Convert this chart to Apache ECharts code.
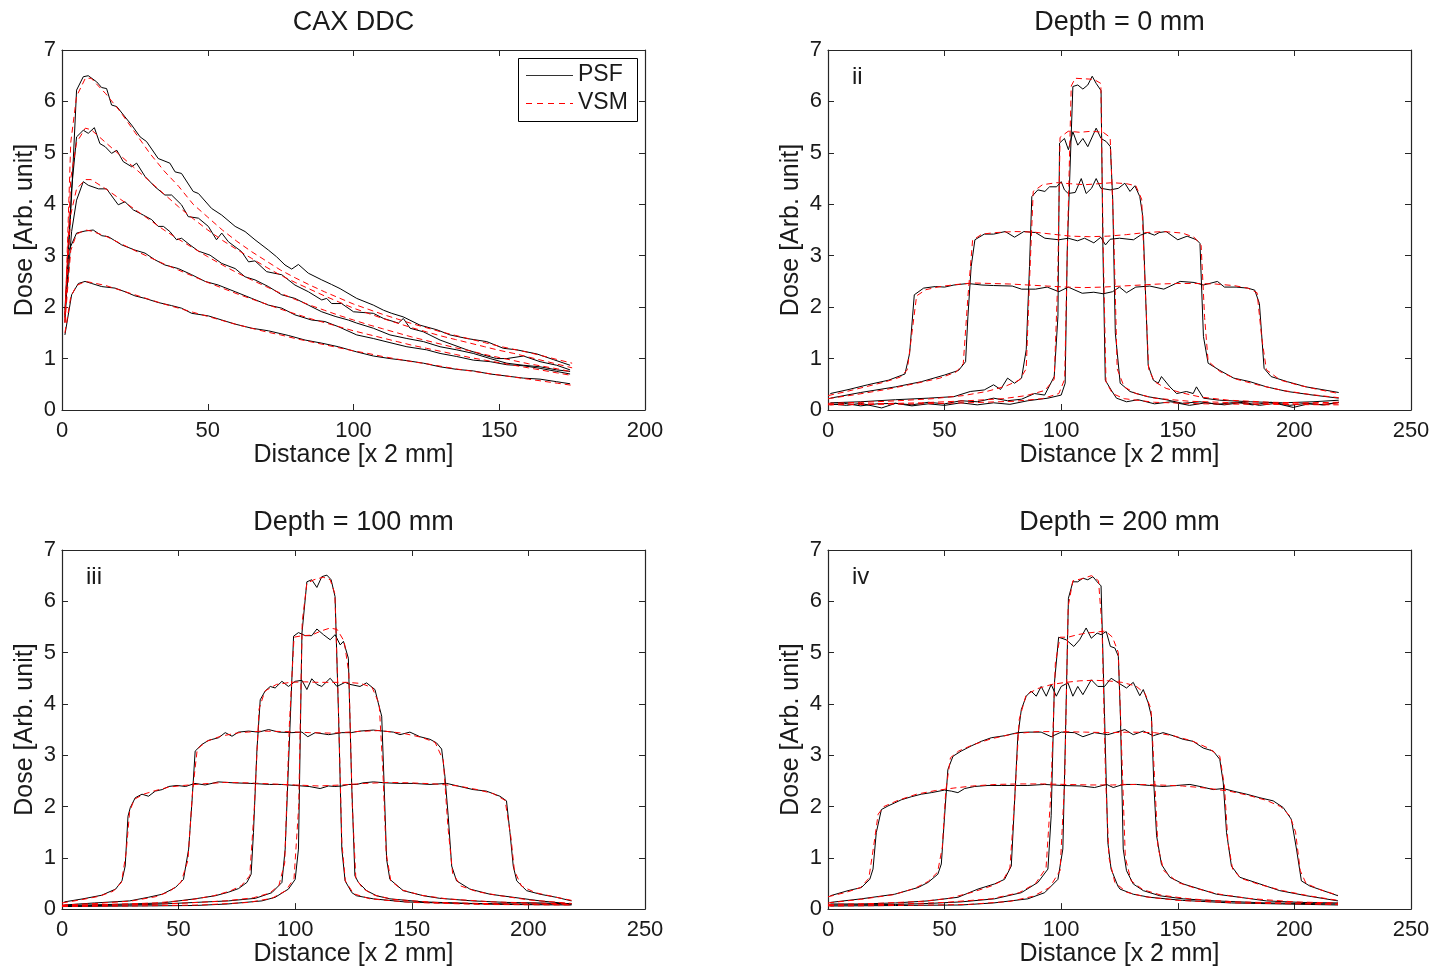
<!DOCTYPE html>
<html>
<head>
<meta charset="utf-8">
<script src="https://cdn.jsdelivr.net/npm/echarts@6/dist/echarts.min.js"></script>
<style>
html,body{margin:0;padding:0;background:#fff;}
#chart{width:1449px;height:968px;}
</style>
</head>
<body>
<div id="chart"></div>
<script>
// ---------------- DATA ----------------
const panelTitles = ['CAX DDC', 'Depth = 0 mm', 'Depth = 100 mm', 'Depth = 200 mm'];
const panelTags = ['', 'ii', 'iii', 'iv'];
const xMaxes = [200, 250, 250, 250];
const xTickStep = 50;
const yTickStep = 1;
const yMax = 7;
const xLabel = 'Distance [x 2 mm]';
const yLabel = 'Dose [Arb. unit]';
const legendNames = ['PSF', 'VSM'];

// Panel 1: CAX depth-dose curves
const cax_psf_65 = [[1,1.8],[3.3,4.18],[5,6.22],[7.3,6.48],[9,6.5],[11.9,6.38],[13.6,6.27],[15.3,6.25],[17,5.93],[18.8,5.9],[21.6,5.7],[23.9,5.54],[26.8,5.31],[29,5.22],[33,4.89],[37,4.8],[38.8,4.63],[41,4.6],[45,4.25],[46.8,4.21],[51.3,3.92],[54.8,3.79],[59.4,3.57],[62.8,3.47],[66.2,3.31],[70.8,3.11],[73.6,2.98],[76.5,2.82],[78.8,2.74],[81.1,2.83],[84.5,2.66],[89.1,2.53],[92.5,2.44],[95.4,2.36],[101.1,2.17],[106.8,2.04],[110.3,1.94],[113.1,1.88],[117.1,1.81],[122.8,1.65],[128.6,1.56],[133.1,1.46],[138.9,1.39],[145.7,1.33],[151.4,1.2],[156,1.17],[162.9,1.09],[168.6,0.98],[174.3,0.87]];
const cax_psf_55 = [[1,1.95],[3.3,4.3],[5,5.31],[7.3,5.44],[9,5.38],[11.1,5.49],[13,5.18],[14.8,5.12],[17,4.99],[18.8,5.05],[21,4.83],[23.9,4.73],[25.6,4.8],[28.5,4.54],[31.9,4.34],[35.3,4.18],[37.6,4.18],[41,3.99],[43.3,3.76],[46.8,3.73],[50.2,3.57],[53,3.31],[54.8,3.44],[57.1,3.27],[61.6,3.08],[64,2.88],[66.2,2.9],[70.2,2.69],[75.4,2.63],[79.9,2.43],[84.5,2.3],[89.1,2.14],[90.8,2.17],[92.5,2.07],[95.9,2.07],[100,1.91],[106.8,1.88],[110.3,1.78],[115.4,1.69],[117.1,1.78],[119.4,1.59],[124,1.52],[129.7,1.36],[138.9,1.17],[144.6,1.07],[149.1,1.0],[152.6,1.0],[158.3,1.05],[164,0.94],[169.7,0.87],[174.3,0.78]];
const cax_psf_45 = [[1,1.85],[3.3,3.47],[5,4.08],[7.3,4.44],[9,4.37],[12.5,4.3],[15.3,4.3],[17.6,4.12],[19.3,3.99],[21.6,4.05],[24.5,3.89],[27.9,3.79],[30.8,3.7],[33,3.57],[34.8,3.57],[37,3.47],[39.3,3.31],[41,3.34],[43.9,3.21],[46.8,3.09],[50.8,3.01],[54.8,2.85],[59.4,2.75],[62.8,2.59],[66.2,2.53],[70.8,2.4],[75.4,2.24],[79.9,2.17],[84.5,2.04],[89.1,1.91],[93.7,1.82],[98.2,1.75],[101.1,1.69],[106.8,1.59],[112.5,1.46],[118.3,1.39],[124,1.33],[129.7,1.23],[135.4,1.17],[141.1,1.1],[146.9,1.0],[152.6,0.91],[158.3,0.87],[164,0.84],[169.7,0.78],[174.3,0.75]];
const cax_psf_35 = [[1,1.7],[2.2,3.08],[5,3.44],[7.9,3.48],[10.7,3.5],[13.6,3.39],[15.9,3.37],[20.5,3.21],[25,3.11],[28.5,3.05],[31.9,2.92],[35.3,2.82],[39.9,2.75],[44.5,2.63],[49.1,2.5],[53.6,2.43],[59.4,2.3],[65.1,2.17],[70.8,2.04],[75.4,1.98],[79.9,1.85],[85.6,1.75],[90.2,1.72],[94.8,1.62],[101.1,1.46],[106.8,1.39],[112.5,1.31],[118.3,1.23],[125.1,1.17],[129.7,1.1],[135.4,1.04],[141.1,0.97],[146.9,0.94],[152.6,0.88],[158.3,0.86],[164,0.81],[169.7,0.75],[174.3,0.7]];
const cax_psf_25 = [[1,1.46],[3.3,2.24],[5.6,2.46],[7.9,2.5],[10.2,2.46],[13.6,2.4],[18.2,2.37],[21.6,2.3],[25,2.22],[28.5,2.17],[33,2.09],[37.6,2.03],[41,1.98],[44.5,1.88],[50.2,1.83],[54.8,1.75],[59.4,1.67],[65.1,1.59],[70.8,1.54],[77.6,1.45],[83.4,1.36],[89.1,1.3],[94.8,1.23],[101.1,1.13],[106.8,1.05],[112.5,1.0],[118.3,0.96],[124,0.91],[129.7,0.84],[135.4,0.79],[141.1,0.76],[146.9,0.7],[152.6,0.66],[158.3,0.62],[164,0.6],[169.7,0.55],[174.3,0.51]];

const cax_vsm_65 = [[1,1.7],[3,5.2],[5,6.1],[8,6.45],[10,6.45],[15,6.15],[20,5.8],[25,5.4],[30,5.0],[35,4.65],[40,4.35],[45,4.0],[50,3.75],[55,3.5],[60,3.28],[65,3.08],[70,2.9],[75,2.72],[80,2.57],[85,2.43],[90,2.3],[95,2.18],[100,2.06],[105,1.96],[110,1.86],[115,1.77],[120,1.68],[125,1.6],[130,1.52],[135,1.45],[140,1.38],[145,1.31],[150,1.24],[155,1.18],[160,1.12],[165,1.05],[170,0.98],[175,0.91]];
const cax_vsm_55 = [[1,1.8],[3,4.5],[5,5.2],[8,5.48],[10,5.45],[15,5.2],[20,4.95],[25,4.7],[30,4.45],[35,4.2],[40,3.95],[45,3.72],[50,3.5],[55,3.3],[60,3.12],[65,2.95],[70,2.78],[75,2.62],[80,2.48],[85,2.35],[90,2.22],[95,2.1],[100,1.98],[105,1.88],[110,1.78],[115,1.69],[120,1.6],[125,1.52],[130,1.44],[135,1.37],[140,1.3],[145,1.23],[150,1.16],[155,1.1],[160,1.03],[165,0.96],[170,0.89],[175,0.82]];
const cax_vsm_45 = [[1,1.85],[3,3.8],[5,4.3],[8,4.48],[10,4.48],[15,4.3],[20,4.1],[25,3.9],[30,3.7],[35,3.5],[40,3.32],[45,3.15],[50,2.98],[55,2.82],[60,2.67],[65,2.53],[70,2.4],[75,2.27],[80,2.15],[85,2.04],[90,1.94],[95,1.84],[100,1.75],[105,1.66],[110,1.58],[115,1.5],[120,1.42],[125,1.35],[130,1.28],[135,1.21],[140,1.15],[145,1.08],[150,1.02],[155,0.96],[160,0.9],[165,0.85],[170,0.8],[175,0.74]];
const cax_vsm_35 = [[1,1.7],[3,3.1],[5,3.42],[8,3.5],[10,3.48],[15,3.38],[20,3.24],[25,3.1],[30,2.97],[35,2.84],[40,2.72],[45,2.6],[50,2.48],[55,2.37],[60,2.26],[65,2.16],[70,2.06],[75,1.96],[80,1.87],[85,1.78],[90,1.7],[95,1.62],[100,1.54],[105,1.47],[110,1.4],[115,1.33],[120,1.26],[125,1.2],[130,1.14],[135,1.08],[140,1.02],[145,0.97],[150,0.92],[155,0.87],[160,0.82],[165,0.77],[170,0.72],[175,0.67]];
const cax_vsm_25 = [[1,1.5],[3,2.2],[5,2.42],[8,2.5],[10,2.48],[15,2.42],[20,2.33],[25,2.24],[30,2.15],[35,2.06],[40,1.98],[45,1.9],[50,1.82],[55,1.74],[60,1.66],[65,1.59],[70,1.52],[75,1.46],[80,1.39],[85,1.33],[90,1.27],[95,1.21],[100,1.15],[105,1.1],[110,1.04],[115,0.99],[120,0.94],[125,0.9],[130,0.85],[135,0.8],[140,0.76],[145,0.72],[150,0.68],[155,0.64],[160,0.6],[165,0.56],[170,0.52],[175,0.48]];

// Panel 2: profiles at depth 0 mm
const d0_psf_25 = [[1,0.32],[9,0.40],[17,0.49],[26,0.58],[33,0.70],[35,1.10],[37,2.24],[41,2.37],[46,2.40],[50,2.39],[54,2.43],[60,2.46],[66,2.43],[71,2.42],[79,2.41],[83,2.35],[89,2.35],[94,2.39],[99,2.30],[103,2.39],[109,2.27],[114,2.29],[118,2.26],[122,2.30],[125,2.39],[128,2.28],[132,2.39],[138,2.41],[144,2.35],[151,2.50],[157,2.48],[161,2.43],[167,2.50],[170,2.39],[175,2.39],[180,2.37],[183,2.33],[185,2.07],[187,0.81],[190,0.65],[197,0.55],[205,0.45],[214,0.38],[219,0.34]];
const d0_psf_35 = [[1,0.23],[14,0.34],[29,0.45],[40,0.55],[50,0.68],[56,0.77],[59,0.94],[60,1.82],[61.4,2.79],[63,3.31],[67,3.42],[71,3.42],[76,3.47],[80,3.36],[84,3.47],[89,3.45],[93,3.34],[99,3.31],[103,3.34],[107,3.29],[110,3.34],[114,3.25],[117,3.36],[119,3.21],[121,3.32],[125,3.34],[131,3.31],[134,3.40],[137,3.45],[140,3.40],[142,3.45],[145,3.47],[150,3.31],[154,3.38],[158,3.31],[159.5,3.24],[161,1.43],[163,0.91],[168,0.77],[174,0.62],[181,0.55],[188,0.45],[197,0.36],[208,0.29],[219,0.23]];
const d0_psf_45 = [[1,0.14],[14,0.16],[29,0.20],[43,0.23],[54,0.26],[61,0.36],[67,0.39],[71,0.49],[74,0.40],[77,0.62],[80,0.52],[83,0.62],[85,1.17],[86.4,2.79],[87.4,4.15],[90,4.28],[93,4.25],[95,4.34],[98,4.34],[100,4.44],[101.4,4.28],[103,4.21],[106,4.23],[108.6,4.50],[110.7,4.21],[113,4.31],[115,4.50],[117,4.31],[121,4.28],[124.5,4.31],[127.3,4.41],[129.5,4.25],[131.6,4.36],[133.7,4.15],[135,3.76],[136,2.46],[137.3,0.87],[139.5,0.58],[141.6,0.52],[143,0.65],[146.6,0.45],[149.5,0.32],[153.7,0.36],[156.6,0.32],[158,0.45],[161,0.23],[168,0.19],[181,0.16],[195,0.14],[208,0.16],[219,0.19]];
const d0_psf_55 = [[1,0.12],[8,0.09],[14,0.13],[23,0.04],[29,0.13],[36,0.10],[43,0.15],[50,0.12],[57,0.18],[64,0.16],[71,0.23],[77,0.18],[83,0.21],[88.6,0.32],[92.9,0.29],[97,0.65],[98.6,1.82],[99.3,5.19],[101.4,5.28],[103.1,5.06],[105,5.41],[107.1,5.15],[109.3,5.28],[111.4,5.12],[115,5.48],[117.1,5.28],[119.3,5.22],[121.1,5.12],[122.1,4.08],[123.2,1.5],[125.3,0.52],[129.5,0.36],[132.3,0.32],[137,0.26],[145,0.20],[152,0.13],[159.5,0.16],[167,0.11],[175,0.15],[182,0.10],[190,0.15],[198,0.09],[205,0.13],[212,0.10],[219,0.15]];
const d0_psf_65 = [[1,0.10],[7,0.13],[14,0.08],[21,0.12],[29,0.13],[36,0.08],[43,0.12],[50,0.09],[57,0.14],[64,0.10],[71,0.14],[78,0.11],[85.7,0.18],[94.3,0.23],[100,0.29],[101.7,0.52],[102.6,3.11],[105,6.29],[107.1,6.32],[109.3,6.24],[111.4,6.32],[113.3,6.49],[115,6.35],[117.1,6.21],[117.9,3.11],[118.9,0.58],[121.4,0.39],[123.7,0.23],[128,0.16],[133,0.2],[140,0.12],[147,0.16],[155,0.09],[162,0.14],[170,0.1],[178,0.15],[185,0.09],[192,0.13],[199.5,0.05],[206,0.12],[213,0.1],[219,0.15]];

const d0_vsm_25 = [[0,0.28],[8,0.36],[16,0.45],[24,0.54],[31,0.64],[34,0.78],[36,1.5],[38,2.22],[42,2.34],[48,2.40],[55,2.44],[62,2.47],[70,2.46],[78,2.45],[86,2.43],[94,2.41],[102,2.39],[110,2.38],[118,2.39],[126,2.41],[134,2.43],[142,2.45],[150,2.46],[158,2.46],[166,2.45],[174,2.42],[180,2.37],[184,2.28],[186,1.4],[188,0.78],[194,0.58],[202,0.48],[210,0.40],[218,0.33]];
const d0_vsm_35 = [[0,0.22],[12,0.3],[25,0.4],[38,0.52],[48,0.62],[55,0.74],[58,0.9],[60,2.2],[62,3.3],[66,3.42],[72,3.45],[80,3.47],[88,3.46],[96,3.42],[104,3.38],[112,3.37],[120,3.38],[128,3.41],[136,3.45],[144,3.47],[152,3.44],[157,3.36],[160,3.2],[161.5,1.8],[163,0.95],[168,0.75],[175,0.6],[185,0.48],[195,0.38],[207,0.3],[219,0.24]];
const d0_vsm_45 = [[0,0.13],[15,0.15],[30,0.18],[45,0.22],[58,0.28],[68,0.36],[76,0.46],[82,0.58],[85,0.8],[86.5,2.6],[88,4.25],[92,4.38],[98,4.42],[104,4.40],[110,4.38],[116,4.40],[122,4.42],[128,4.40],[132,4.36],[134.5,4.1],[136,2.4],[137.5,0.8],[140,0.55],[145,0.42],[152,0.33],[160,0.25],[172,0.19],[190,0.15],[205,0.14],[219,0.15]];
const d0_vsm_55 = [[0,0.11],[20,0.12],[40,0.14],[60,0.18],[75,0.22],[85,0.28],[93,0.38],[97,0.6],[98.5,2.5],[99.5,5.3],[103,5.42],[108,5.4],[113,5.42],[118,5.40],[121,5.3],[122.5,3.5],[124,0.8],[127,0.45],[132,0.32],[140,0.23],[155,0.17],[175,0.14],[200,0.12],[219,0.12]];
const d0_vsm_65 = [[0,0.10],[20,0.11],[40,0.12],[60,0.14],[80,0.17],[92,0.22],[99,0.32],[101.5,0.6],[102.8,3.5],[104.3,6.3],[106,6.45],[110,6.44],[114,6.43],[117,6.35],[118,3.2],[119.2,0.55],[122,0.32],[127,0.22],[140,0.15],[160,0.12],[185,0.11],[219,0.10]];

// Panel 3: profiles at depth 100 mm
const d100_psf_25 = [[1,0.14],[9,0.2],[17,0.27],[23,0.39],[25.7,0.55],[27.1,0.84],[28.3,1.81],[29.3,1.98],[31.4,2.17],[34.3,2.24],[37.1,2.20],[40,2.30],[43,2.33],[45.7,2.39],[49.3,2.41],[53,2.39],[57,2.45],[61.4,2.42],[67,2.48],[74,2.46],[81,2.45],[89,2.43],[94,2.43],[100,2.41],[106,2.39],[110.7,2.35],[114.3,2.40],[117,2.39],[120,2.40],[123,2.43],[126.4,2.43],[129,2.46],[133.5,2.48],[139,2.46],[145,2.45],[150.6,2.45],[157.8,2.43],[165,2.45],[170.6,2.39],[176.3,2.33],[182,2.30],[187.8,2.20],[190.6,2.11],[192.1,1.49],[193.5,0.84],[195,0.55],[199.2,0.36],[205,0.29],[212,0.23],[218.5,0.16]];
const d100_psf_35 = [[1,0.08],[14,0.12],[29,0.16],[37,0.23],[43,0.29],[48.6,0.42],[52.1,0.58],[54.3,1.17],[55.7,2.07],[57.1,3.08],[60,3.21],[62.9,3.29],[67.1,3.34],[70,3.44],[72.9,3.37],[75.7,3.45],[80,3.47],[84.3,3.45],[88.6,3.50],[92.9,3.45],[98.6,3.44],[102.9,3.45],[105.4,3.36],[108.6,3.44],[114.3,3.40],[120,3.44],[124,3.44],[127.8,3.47],[133.5,3.49],[137.8,3.47],[142.1,3.45],[144.9,3.40],[149.2,3.45],[153.5,3.36],[157.8,3.31],[160.6,3.24],[162.8,3.12],[164.2,2.59],[165.6,1.82],[167.1,0.84],[169.2,0.55],[174.9,0.39],[183.5,0.29],[193.5,0.23],[205,0.16],[218.5,0.10]];
const d100_psf_45 = [[1,0.07],[29,0.10],[43,0.12],[57,0.2],[65.7,0.26],[71.4,0.33],[75.7,0.40],[79.3,0.52],[81.1,0.68],[82.1,1.49],[83.6,3.11],[85,4.08],[87.1,4.25],[89.3,4.34],[91.4,4.31],[94.3,4.44],[97.1,4.34],[100,4.44],[102.9,4.46],[105,4.28],[107.1,4.49],[109.3,4.38],[111.4,4.34],[115,4.50],[117.9,4.34],[121.4,4.42],[123.5,4.38],[127.8,4.34],[130.6,4.41],[134.2,4.28],[135.6,4.02],[137.1,3.76],[138.1,2.46],[139.2,0.97],[140.6,0.58],[146.3,0.36],[155,0.26],[162,0.21],[176,0.16],[190.6,0.13],[205,0.12],[218.5,0.10]];
const d100_psf_55 = [[1,0.06],[29,0.08],[43,0.10],[57,0.13],[71.4,0.16],[82.9,0.21],[90,0.32],[94.3,0.52],[95.7,1.17],[97.1,2.79],[99.3,5.32],[101.4,5.39],[104.3,5.33],[107.1,5.33],[109.3,5.46],[112.1,5.35],[115,5.25],[117.1,5.35],[119.3,5.15],[120.7,5.22],[122.8,4.89],[124.2,2.46],[125.6,0.65],[127.1,0.52],[130.6,0.36],[134.9,0.26],[140.6,0.20],[155,0.14],[176,0.11],[197,0.10],[218.5,0.10]];
const d100_psf_65 = [[1,0.05],[29,0.06],[57,0.07],[71,0.10],[85.7,0.16],[91.4,0.23],[97.1,0.39],[100,0.58],[101.4,1.17],[102.9,5.38],[105,6.38],[107.1,6.42],[109.3,6.27],[111.4,6.48],[113.6,6.51],[115.4,6.42],[117.1,6.09],[118.6,3.76],[120,1.17],[121.4,0.55],[124.3,0.32],[126.3,0.26],[133.5,0.20],[147,0.14],[162,0.12],[190,0.09],[218.5,0.08]];

const d100_vsm_25 = [[0,0.12],[8,0.18],[16,0.25],[22,0.35],[25.5,0.52],[27.5,1.1],[29,1.9],[31,2.14],[35,2.24],[40,2.31],[46,2.38],[52,2.41],[60,2.44],[70,2.47],[80,2.46],[90,2.44],[100,2.42],[110,2.40],[120,2.42],[130,2.45],[140,2.47],[150,2.46],[160,2.44],[170,2.40],[178,2.33],[185,2.25],[190,2.12],[192.5,1.4],[194,0.75],[197,0.45],[203,0.32],[211,0.24],[218.5,0.17]];
const d100_vsm_35 = [[0,0.08],[15,0.11],[30,0.16],[40,0.24],[46,0.34],[51,0.52],[54,0.95],[56,2.3],[58,3.12],[62,3.27],[68,3.37],[76,3.44],[86,3.47],[96,3.46],[106,3.44],[116,3.43],[126,3.46],[136,3.48],[146,3.43],[154,3.35],[160,3.25],[163.5,2.9],[165.5,1.6],[167.5,0.7],[171,0.45],[178,0.34],[188,0.26],[200,0.18],[218.5,0.11]];
const d100_vsm_45 = [[0,0.07],[20,0.09],[40,0.12],[55,0.18],[65,0.26],[72,0.35],[77,0.46],[80.5,0.65],[82.5,2.0],[84.5,3.9],[87,4.25],[92,4.38],[98,4.42],[104,4.43],[110,4.42],[116,4.42],[122,4.42],[128,4.40],[133,4.32],[136,4.0],[137.5,2.8],[139,1.1],[141,0.55],[146,0.37],[154,0.27],[165,0.2],[185,0.14],[218.5,0.10]];
const d100_vsm_55 = [[0,0.06],[25,0.08],[50,0.11],[70,0.16],[82,0.22],[89,0.31],[93,0.46],[95.5,0.9],[97.5,3.6],[99.5,5.3],[103,5.33],[107,5.34],[111,5.42],[115,5.48],[118,5.45],[121,5.22],[123,4.6],[124.5,2.0],[126,0.6],[129,0.4],[134,0.27],[142,0.19],[160,0.13],[190,0.1],[218.5,0.09]];
const d100_vsm_65 = [[0,0.05],[30,0.06],[60,0.08],[80,0.13],[90,0.21],[96,0.36],[99.5,0.6],[101.5,2.0],[103,5.6],[105,6.35],[108,6.42],[112,6.47],[115,6.42],[117,6.15],[118.5,4.0],[120,1.3],[121.5,0.55],[125,0.3],[132,0.2],[150,0.13],[180,0.09],[218.5,0.08]];

// Panel 4: profiles at depth 200 mm
const d200_psf_25 = [[1,0.26],[8.6,0.36],[14.3,0.42],[17.9,0.58],[19.3,0.78],[20.7,1.49],[22.9,1.94],[25.7,2.01],[28.6,2.07],[31.4,2.13],[35.7,2.19],[40,2.24],[44.3,2.27],[50,2.32],[52.9,2.30],[55.7,2.27],[58.6,2.35],[62.9,2.39],[68.6,2.41],[74.3,2.41],[80,2.41],[85.7,2.41],[92.9,2.43],[100,2.41],[108.6,2.40],[114.3,2.37],[119.5,2.43],[122.3,2.37],[126.6,2.43],[132.3,2.43],[138,2.41],[143.7,2.39],[149.5,2.41],[155.2,2.43],[159.5,2.39],[165.2,2.33],[169.5,2.35],[173.7,2.30],[179.5,2.24],[185.2,2.17],[190.9,2.11],[195.2,1.98],[198.7,1.75],[200.9,1.17],[203,0.55],[206.6,0.45],[212.3,0.36],[218.7,0.26]];
const d200_psf_35 = [[1,0.13],[14.3,0.20],[28.6,0.29],[38.6,0.42],[42.9,0.52],[47.1,0.68],[48.6,0.88],[50,1.82],[51.4,2.72],[53.6,2.98],[57.1,3.08],[61.4,3.18],[65.7,3.27],[70,3.34],[75.7,3.38],[81.4,3.44],[85.7,3.45],[91.4,3.45],[95.7,3.36],[100,3.45],[105.7,3.44],[109.3,3.36],[114.3,3.44],[120,3.40],[123.7,3.45],[127.3,3.50],[130.9,3.40],[135.2,3.47],[139.5,3.38],[143.7,3.44],[148,3.38],[152.3,3.31],[156.6,3.27],[160.9,3.14],[165.2,3.08],[168,2.92],[169.5,2.46],[170.9,1.49],[173,0.84],[176.6,0.62],[185.2,0.49],[193.7,0.36],[205.2,0.26],[218.7,0.16]];
const d200_psf_45 = [[1,0.10],[14,0.10],[29,0.12],[42.9,0.16],[55.7,0.23],[64.3,0.39],[71.4,0.49],[75.7,0.58],[78.6,0.84],[79.7,1.82],[81.4,3.37],[82.9,3.89],[85,4.15],[87.1,4.25],[89.3,4.15],[91.4,4.34],[93.6,4.15],[95.7,4.38],[97.9,4.15],[100,4.34],[102.9,4.41],[105,4.15],[107.1,4.34],[109.3,4.18],[112.9,4.47],[115.7,4.34],[118.6,4.34],[121.4,4.5],[124.5,4.41],[128,4.31],[130.9,4.42],[133.7,4.16],[135.2,4.28],[137.3,4.02],[138.7,3.76],[139.7,2.46],[140.9,1.43],[143,0.87],[146.6,0.62],[152.3,0.49],[159.5,0.39],[166.6,0.29],[176.6,0.23],[188,0.16],[203,0.13],[218.7,0.12]];
const d200_psf_55 = [[1,0.08],[29,0.09],[43,0.11],[57,0.14],[71.4,0.20],[82.9,0.32],[90,0.52],[94.3,0.78],[95.7,1.82],[97.1,4.41],[98.9,5.30],[102.1,5.25],[105.4,5.12],[107.9,5.25],[110.7,5.48],[112.9,5.28],[115.4,5.38],[117.1,5.35],[119.3,5.41],[121.1,5.12],[123,5.09],[124.5,4.93],[125.4,3.76],[126.6,1.17],[128,0.75],[130.9,0.49],[135.2,0.36],[142.3,0.26],[152.3,0.20],[166,0.16],[188,0.12],[218.7,0.10]];
const d200_psf_65 = [[1,0.06],[29,0.07],[57,0.08],[71,0.12],[85.7,0.20],[92.9,0.32],[98.6,0.58],[100.7,1.17],[101.7,3.11],[103.1,6.06],[105,6.38],[107.1,6.38],[109.3,6.45],[111.4,6.42],[113.6,6.48],[115.4,6.38],[117.1,6.30],[118.6,3.76],[120,1.30],[121.4,0.78],[124.3,0.45],[125.2,0.39],[130.9,0.29],[138,0.23],[152,0.17],[173,0.12],[195,0.10],[218.7,0.08]];

const d200_vsm_25 = [[0,0.24],[8,0.33],[14,0.42],[17.5,0.6],[19.5,1.2],[21.5,1.85],[24,2.0],[30,2.12],[38,2.24],[46,2.31],[54,2.36],[62,2.40],[72,2.43],[82,2.44],[92,2.44],[102,2.43],[112,2.42],[122,2.42],[132,2.43],[142,2.42],[152,2.40],[162,2.36],[172,2.30],[180,2.22],[188,2.12],[194,2.0],[198,1.82],[200.5,1.5],[202.5,0.75],[205,0.5],[211,0.38],[218.7,0.27]];
const d200_vsm_35 = [[0,0.12],[14,0.19],[28,0.28],[37,0.4],[43,0.54],[47,0.72],[49,1.2],[50.5,2.3],[52.5,2.95],[56,3.08],[62,3.2],[70,3.32],[80,3.42],[90,3.46],[100,3.46],[110,3.45],[120,3.44],[130,3.45],[140,3.44],[148,3.38],[156,3.28],[163,3.14],[168,2.98],[170,2.4],[171.5,1.3],[173.5,0.78],[177,0.6],[185,0.48],[195,0.36],[206,0.26],[218.7,0.17]];
const d200_vsm_45 = [[0,0.09],[20,0.11],[40,0.15],[52,0.21],[62,0.33],[70,0.45],[75,0.56],[78,0.8],[80,2.1],[82,3.7],[85,4.18],[90,4.3],[96,4.38],[102,4.42],[108,4.45],[114,4.46],[120,4.45],[126,4.42],[132,4.35],[136,4.2],[138.5,3.9],[140,2.6],[141.5,1.2],[144,0.75],[150,0.52],[158,0.4],[168,0.29],[180,0.21],[200,0.14],[218.7,0.12]];
const d200_vsm_55 = [[0,0.07],[25,0.09],[50,0.13],[70,0.2],[82,0.32],[89,0.5],[93.5,0.8],[95.5,2.2],[97.5,4.8],[99.5,5.3],[103,5.3],[107,5.35],[111,5.38],[115,5.4],[119,5.42],[122,5.3],[124.5,5.0],[126,3.0],[127.5,1.0],[130,0.55],[135,0.38],[143,0.27],[155,0.2],[175,0.14],[218.7,0.10]];
const d200_vsm_65 = [[0,0.06],[30,0.07],[60,0.09],[78,0.15],[88,0.25],[95,0.42],[99.5,0.75],[101.5,2.5],[103,5.9],[105,6.4],[109,6.44],[113,6.5],[116,6.4],[117.5,5.5],[119,2.6],[120.5,1.0],[123,0.52],[128,0.33],[136,0.24],[150,0.17],[175,0.12],[218.7,0.09]];

// ---------------- CHART ----------------
const FONT = '"Liberation Sans", Arial, Helvetica, sans-serif';
const INK = '#1a1a1a';
const AXIS = '#262626';
const RED = '#ff0000';

const panelPSF = [
  [cax_psf_65, cax_psf_55, cax_psf_45, cax_psf_35, cax_psf_25],
  [d0_psf_25, d0_psf_35, d0_psf_45, d0_psf_55, d0_psf_65],
  [d100_psf_25, d100_psf_35, d100_psf_45, d100_psf_55, d100_psf_65],
  [d200_psf_25, d200_psf_35, d200_psf_45, d200_psf_55, d200_psf_65]
];
const panelVSM = [
  [cax_vsm_65, cax_vsm_55, cax_vsm_45, cax_vsm_35, cax_vsm_25],
  [d0_vsm_25, d0_vsm_35, d0_vsm_45, d0_vsm_55, d0_vsm_65],
  [d100_vsm_25, d100_vsm_35, d100_vsm_45, d100_vsm_55, d100_vsm_65],
  [d200_vsm_25, d200_vsm_35, d200_vsm_45, d200_vsm_55, d200_vsm_65]
];

const gridBoxes = [
  {left: 62, top: 50, width: 583, height: 360},
  {left: 828, top: 50, width: 583, height: 360},
  {left: 62, top: 550, width: 583, height: 360},
  {left: 828, top: 550, width: 583, height: 360}
];

const grids = [], xAxes = [], yAxes = [], series = [], graphics = [];
const tickStyle = {show: true, inside: true, length: 6, lineStyle: {color: AXIS, width: 1}};
const lineStyleAxis = {show: true, onZero: false, lineStyle: {color: AXIS, width: 1.2}};

gridBoxes.forEach((g, i) => {
  grids.push(Object.assign({containLabel: false, show: false}, g));
  xAxes.push({
    gridIndex: i, type: 'value', position: 'bottom', min: 0, max: xMaxes[i], interval: xTickStep,
    axisLine: lineStyleAxis, axisTick: tickStyle, splitLine: {show: false},
    axisLabel: {show: true, fontSize: 22, color: INK, fontFamily: FONT, margin: 10},
    name: xLabel, nameLocation: 'middle', nameGap: 32,
    nameTextStyle: {fontSize: 25, color: INK, fontFamily: FONT}
  });
  xAxes.push({
    gridIndex: i, type: 'value', position: 'top', min: 0, max: xMaxes[i], interval: xTickStep,
    axisLine: lineStyleAxis, axisTick: tickStyle, splitLine: {show: false},
    axisLabel: {show: false}
  });
  yAxes.push({
    gridIndex: i, type: 'value', position: 'left', min: 0, max: yMax, interval: yTickStep,
    axisLine: lineStyleAxis, axisTick: tickStyle, splitLine: {show: false},
    axisLabel: {show: true, fontSize: 22, color: INK, fontFamily: FONT, margin: 6},
    name: yLabel, nameLocation: 'middle', nameGap: 24,
    nameTextStyle: {fontSize: 25, color: INK, fontFamily: FONT}
  });
  yAxes.push({
    gridIndex: i, type: 'value', position: 'right', min: 0, max: yMax, interval: yTickStep,
    axisLine: lineStyleAxis, axisTick: tickStyle, splitLine: {show: false},
    axisLabel: {show: false}
  });

  panelPSF[i].forEach(d => {
    series.push({
      type: 'line', name: legendNames[0], xAxisIndex: 2 * i, yAxisIndex: 2 * i,
      data: d, symbol: 'none', showSymbol: false, silent: true, z: 2,
      lineStyle: {color: '#000', width: 1}, itemStyle: {color: '#000'}
    });
  });
  panelVSM[i].forEach(d => {
    series.push({
      type: 'line', name: legendNames[1], xAxisIndex: 2 * i, yAxisIndex: 2 * i,
      data: d, symbol: 'none', showSymbol: false, silent: true, z: 3,
      lineStyle: {color: RED, width: 1, type: [6, 4]}, itemStyle: {color: RED}
    });
  });

  graphics.push({
    type: 'text', x: g.left + g.width / 2, y: g.top - 27,
    style: {text: panelTitles[i], fill: INK, font: '27px ' + FONT,
      align: 'center', verticalAlign: 'middle', textAlign: 'center', textVerticalAlign: 'middle'}
  });
  if (panelTags[i]) {
    graphics.push({
      type: 'text', x: g.left + 24, y: g.top + 27,
      style: {text: panelTags[i], fill: INK, font: '24px ' + FONT,
        align: 'left', verticalAlign: 'middle', textAlign: 'left', textVerticalAlign: 'middle'}
    });
  }
});

// Legend box (panel 1, top-right corner), drawn as graphic annotation
const lg = {x: 518, y: 58, w: 119, h: 63};
graphics.push({
  type: 'group', z: 100,
  children: [
    {type: 'rect', shape: {x: lg.x + 0.5, y: lg.y + 0.5, width: lg.w, height: lg.h},
      style: {fill: '#fff', stroke: '#000', lineWidth: 1}},
    {type: 'line', shape: {x1: lg.x + 8, y1: lg.y + 17.5, x2: lg.x + 55, y2: lg.y + 17.5},
      style: {stroke: '#333', lineWidth: 1}},
    {type: 'line', shape: {x1: lg.x + 8, y1: lg.y + 45.5, x2: lg.x + 55, y2: lg.y + 45.5},
      style: {stroke: RED, lineWidth: 1, lineDash: [6, 5]}},
    {type: 'text', x: lg.x + 60, y: lg.y + 17,
      style: {text: legendNames[0], fill: INK, font: '23px ' + FONT,
        align: 'left', verticalAlign: 'middle', textAlign: 'left', textVerticalAlign: 'middle'}},
    {type: 'text', x: lg.x + 60, y: lg.y + 45,
      style: {text: legendNames[1], fill: INK, font: '23px ' + FONT,
        align: 'left', verticalAlign: 'middle', textAlign: 'left', textVerticalAlign: 'middle'}}
  ]
});

const chart = echarts.init(document.getElementById('chart'), null, {renderer: 'canvas'});
chart.setOption({
  animation: false,
  backgroundColor: '#fff',
  textStyle: {fontFamily: FONT},
  grid: grids,
  xAxis: xAxes,
  yAxis: yAxes,
  series: series,
  graphic: graphics
});
</script>
</body>
</html>
